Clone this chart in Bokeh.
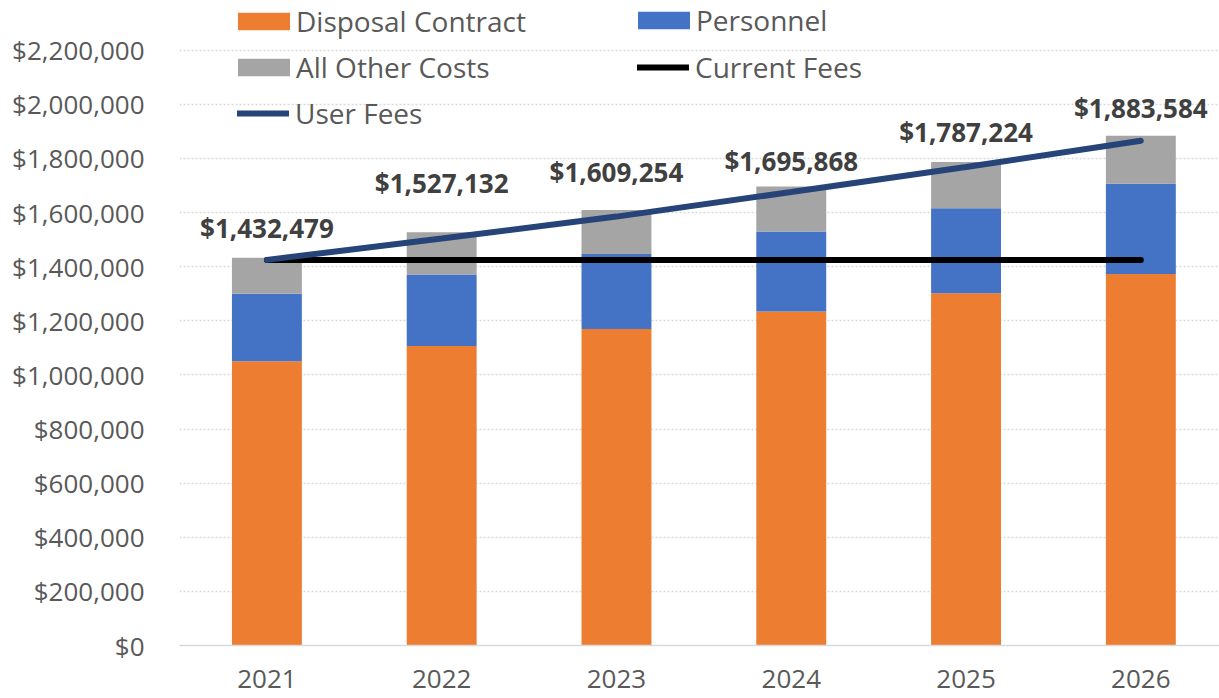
from bokeh.plotting import figure
from bokeh.models import (ColumnDataSource, Range1d, FixedTicker, NumeralTickFormatter,
                          Legend, LegendItem)
from bokeh.core.properties import value
from bokeh.embed import file_html
from bokeh.resources import INLINE

# ---- data ----
years = ["2021", "2022", "2023", "2024", "2025", "2026"]
disposal = [1050000, 1107000, 1170000, 1234000, 1302000, 1373000]
personnel = [250000, 264000, 277000, 296000, 314000, 333000]
other = [132479, 156132, 162254, 165868, 171224, 177584]
totals = [1432479, 1527132, 1609254, 1695868, 1787224, 1883584]
current_fees = [1425000, 1425000, 1425000, 1425000, 1425000, 1425000]
user_fees = [1425000, 1504000, 1585000, 1676000, 1768000, 1865000]
y_ticks = [0, 200000, 400000, 600000, 800000, 1000000, 1200000,
           1400000, 1600000, 1800000, 2000000, 2200000]

# layout-only: vertical offsets (px) of the total labels above the bars
label_offsets = [30, 49, 38, 26, 30, 28]

FONT = "Open Sans"
ORANGE, BLUE, GRAY, NAVY = "#ED7D31", "#4472C4", "#A5A5A5", "#264478"

xs = list(range(len(years)))
src = ColumnDataSource(dict(
    x=xs, disposal=disposal, personnel=personnel, other=other,
    total=totals, current=current_fees, user=user_fees,
    label=[f"${t:,.0f}" for t in totals],
    yoff=[-o for o in label_offsets],
))

# frame spans the full top of the canvas so the legend (inside the frame) is not clipped;
# ticks/grid stop at 2,200,000
Y_TOP = 2383600
p = figure(width=1219, height=698, output_backend="svg", toolbar_location=None,
           x_range=Range1d(-0.5, 5.45), y_range=Range1d(0, Y_TOP),
           min_border_left=179, min_border_right=0, min_border_top=0,
           min_border_bottom=53)
p.outline_line_color = None
p.background_fill_color = "white"

bars = p.vbar_stack(["disposal", "personnel", "other"], x="x", width=0.4, source=src,
                    color=[ORANGE, BLUE, GRAY], line_color=None)

cur = p.line("x", "current", source=src, line_color="black", line_width=6,
             line_cap="round")
usr = p.line("x", "user", source=src, line_color=NAVY, line_width=6,
             line_cap="round")

p.text("x", "total", text="label", source=src, y_offset="yoff",
       text_align="center", text_baseline="middle",
       text_font=value(FONT), text_font_size="26px", text_font_style="bold",
       text_color="#404040")

# axes
p.yaxis.ticker = FixedTicker(ticks=y_ticks)
p.yaxis.formatter = NumeralTickFormatter(format="$0,0")
p.yaxis.axis_line_color = None
p.yaxis.major_tick_line_color = None
p.yaxis.minor_tick_line_color = None
p.yaxis.major_label_standoff = 29
p.yaxis.major_label_text_font = FONT
p.yaxis.major_label_text_font_size = "26px"
p.yaxis.major_label_text_color = "#595959"

p.xaxis.ticker = FixedTicker(ticks=xs)
p.xaxis.major_label_overrides = {i: y for i, y in zip(xs, years)}
p.xaxis.axis_line_color = "#D9D9D9"
p.xaxis.axis_line_width = 1.5
p.xaxis.major_tick_line_color = None
p.xaxis.minor_tick_line_color = None
p.xaxis.major_label_standoff = 18
p.xaxis.major_label_text_font = FONT
p.xaxis.major_label_text_font_size = "26px"
p.xaxis.major_label_text_color = "#595959"

p.xgrid.grid_line_color = None
p.ygrid.grid_line_color = "#D9D9D9"
p.ygrid.grid_line_width = 1.5
p.ygrid.grid_line_dash = "2 2"

def make_legend(items, loc, gw, gh, standoff):
    lg = Legend(items=items, location=loc, orientation="vertical",
                glyph_width=gw, glyph_height=gh, label_standoff=standoff,
                label_height=38, spacing=8, padding=0, margin=0,
                border_line_alpha=0, background_fill_alpha=0,
                label_text_font=FONT, label_text_font_size="28px",
                label_text_color="#595959")
    p.add_layout(lg)
    return lg

# bar swatches are drawn 10% inset, so their boxes are enlarged to show ~52x18
make_legend([LegendItem(label="Disposal Contract", renderers=[bars[0]]),
             LegendItem(label="All Other Costs", renderers=[bars[2]])],
            (52, 559), 65, 22, 0)
make_legend([LegendItem(label="Personnel", renderers=[bars[1]])],
            (452, 606), 65, 22, 0)
make_legend([LegendItem(label="Current Fees", renderers=[cur])],
            (458, 559), 52, 18, 6)
make_legend([LegendItem(label="User Fees", renderers=[usr])],
            (58, 513), 52, 18, 6)

open("out.html", "w").write(file_html(p, INLINE))
